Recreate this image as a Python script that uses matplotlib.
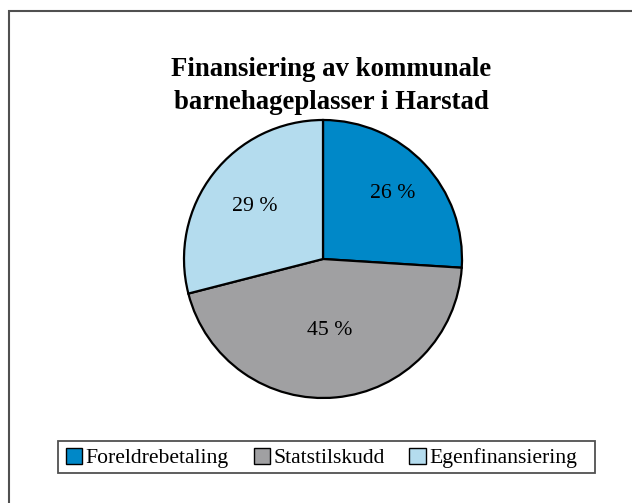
import matplotlib
matplotlib.use('Agg')
import matplotlib.pyplot as plt
import numpy as np
from matplotlib.patches import Rectangle

plt.rcParams['font.family'] = ['Liberation Serif', 'DejaVu Serif']

# data
labels = ['Foreldrebetaling', 'Statstilskudd', 'Egenfinansiering']
shares = [26, 45, 29]
colors = ['#0088c8', '#a0a0a2', '#b4dcee']
title = 'Finansiering av kommunale\nbarnehageplasser i Harstad'
label_dist = [0.69, 0.52, 0.62]   # where the % labels sit, as a fraction of radius

fig = plt.figure(figsize=(6.32, 5.03), dpi=100)

# outer chart frame (cut off on right/bottom as in the source)
W, H = 632, 503
fig.patches.append(Rectangle((9 / W, -0.1), 1.2, (H - 11) / H + 0.1,
                             transform=fig.transFigure, fill=False,
                             edgecolor='#505050', lw=1.5))

# pie area: center ~(323,259), radius ~139 px
r = 139
ax = fig.add_axes([(323 - r) / W, (H - 259 - r) / H, 2 * r / W, 2 * r / H])
wedges, texts, autotexts = ax.pie(
    shares, colors=colors, startangle=90, counterclock=False,
    autopct=lambda p: f'{p:.0f} %', pctdistance=0.6,
    wedgeprops=dict(edgecolor='black', linewidth=1.6),
    textprops=dict(fontsize=15.7, color='black'))
for w, t, d in zip(wedges, autotexts, label_dist):
    ang = np.deg2rad((w.theta1 + w.theta2) / 2)
    t.set_position((d * np.cos(ang), d * np.sin(ang)))
ax.set_xlim(-1, 1)
ax.set_ylim(-1, 1)
ax.set_aspect('auto')

fig.text(331 / W, 1 - 86 / H, title, ha='center', va='center',
         fontsize=19.3, fontweight='bold', linespacing=1.4)

# legend: entries without frame, box drawn separately (extra right padding like the source)
leg = fig.legend(wedges, labels, loc='center left', ncol=3,
                 bbox_to_anchor=(66 / W, 1 - 458 / H),
                 fontsize=15.6, frameon=False,
                 handlelength=0.75, handleheight=0.75,
                 handletextpad=0.15, columnspacing=1.15, borderpad=0,
                 borderaxespad=0)
for h in leg.legend_handles:
    h.set_linewidth(1.0)
fig.patches.append(Rectangle((58 / W, 1 - 473 / H), (595 - 58) / W, 32 / H,
                             transform=fig.transFigure, fill=False,
                             edgecolor='#505050', lw=1.3))

fig.savefig('out.png', dpi=100)
